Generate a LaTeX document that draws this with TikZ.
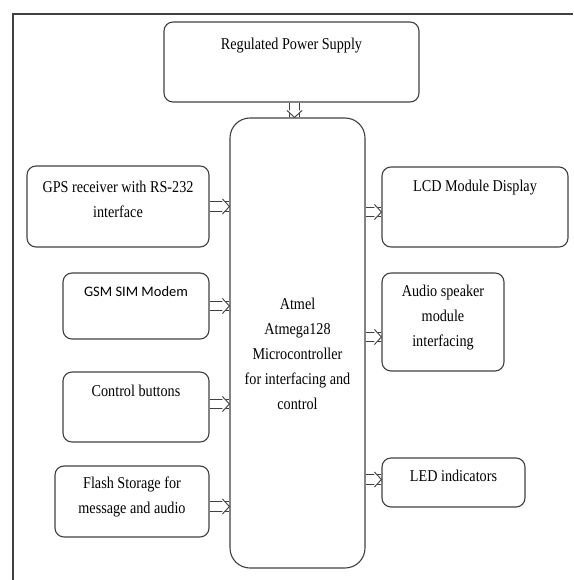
\documentclass[tikz,border=0pt]{standalone}
\usepackage{fontspec}
\setmainfont{Liberation Serif}[FakeStretch=0.86]
\newfontfamily\gsmfont{Carlito}
\usetikzlibrary{positioning}
\tikzstyle{block} = [draw=black!75, line width=1.1pt, rounded corners=9pt, inner sep=0pt]
\tikzstyle{boxtext} = [align=center, inner sep=0pt, font=\fontsize{16.5}{25}\selectfont]
\tikzstyle{bus} = [draw=black!75, line width=0.9pt, double=white, double distance=8.5pt]
\tikzstyle{head} = [draw=black!75, line width=0.9pt, line join=miter]
\tikzstyle{frame} = [draw=black!75, line width=1.3pt]
% open head of a bus arrow: tip coordinate, direction angle
\newcommand{\bushead}[2]{%
\begin{scope}[shift={(#1)}, rotate=#2]
\fill[white] (-7,-7.5) -- (0,0) -- (-7,7.5) -- cycle;
\path[head] (-7,-7.5) -- (0,0) -- (-7,7.5);
\end{scope}}

\begin{document}
\begin{tikzpicture}[x=1pt,y=-1pt]
\useasboundingbox (0,0) rectangle (573,580);
% page frame (only top and left edges show)
\path (13,580) coordinate (f1) (13,14) coordinate (f2) (573,14) coordinate (f3);
\draw[frame] (f1) -- (f2) -- (f3);

% supply and controller
\node[block, minimum width=255pt, minimum height=80pt] (s1) at (291.5,62) {};
\node[boxtext] (s1t) at (291.5,46) {Regulated Power Supply};
\node[block, rounded corners=20pt, minimum width=135pt, minimum height=450pt] (p1) at (297.5,343) {};
\node[boxtext] (p1t) at (297.5,354) {Atmel\\ Atmega128\\ Microcontroller\\ for interfacing and\\ control};
\path[bus] ([xshift=3pt]s1.south) -- ([xshift=-3pt]p1.north) coordinate (t0);
\bushead{t0}{-90}

% inputs
\node[block, minimum width=182pt, minimum height=81pt] (i1) at (118,206.5) {};
\node[boxtext] (i1t) at (118,199) {GPS receiver with RS-232\\ interface};
\node[block, minimum width=146pt, minimum height=66pt] (i2) at (136,306) {};
\node[boxtext, font=\gsmfont\fontsize{14.5}{25}\selectfont] (i2t) at (136,292) {GSM SIM Modem};
\node[block, minimum width=146pt, minimum height=70pt] (i3) at (136,407) {};
\node[boxtext] (i3t) at (136,391) {Control buttons};
\node[block, minimum width=154pt, minimum height=71pt] (i4) at (132,501.5) {};
\node[boxtext] (i4t) at (132,497) {Flash Storage for\\ message and audio};
\path[bus] (i1.east) -- (i1.east -| p1.west) coordinate (t1);
\path[bus] (i2.east) -- (i2.east -| p1.west) coordinate (t2);
\path[bus] ([yshift=3pt]i3.east) -- ([yshift=3pt]i3.east -| p1.west) coordinate (t3);
\path[bus] ([yshift=-5pt]i4.east) -- ([yshift=-5pt]i4.east -| p1.west) coordinate (t4);
\bushead{t1}{0}
\bushead{t2}{0}
\bushead{t3}{0}
\bushead{t4}{0}

% outputs
\node[block, minimum width=186pt, minimum height=80pt] (o1) at (475,207) {};
\node[boxtext] (o1t) at (475,188) {LCD Module Display};
\node[block, minimum width=122pt, minimum height=98pt] (o2) at (443,322) {};
\node[boxtext] (o2t) at (443,318) {Audio speaker\\ module\\ interfacing};
\node[block, minimum width=143pt, minimum height=49pt] (o3) at (453.5,482.5) {};
\node[boxtext] (o3t) at (453.5,476) {LED indicators};
\path[bus] ([yshift=-5pt]p1.east |- o1.west) -- ([yshift=-5pt]o1.west) coordinate (t5);
\path[bus] ([yshift=-15pt]p1.east |- o2.west) -- ([yshift=-15pt]o2.west) coordinate (t6);
\path[bus] ([yshift=3pt]p1.east |- o3.west) -- ([yshift=3pt]o3.west) coordinate (t7);
\bushead{t5}{0}
\bushead{t6}{0}
\bushead{t7}{0}
\end{tikzpicture}
\end{document}
